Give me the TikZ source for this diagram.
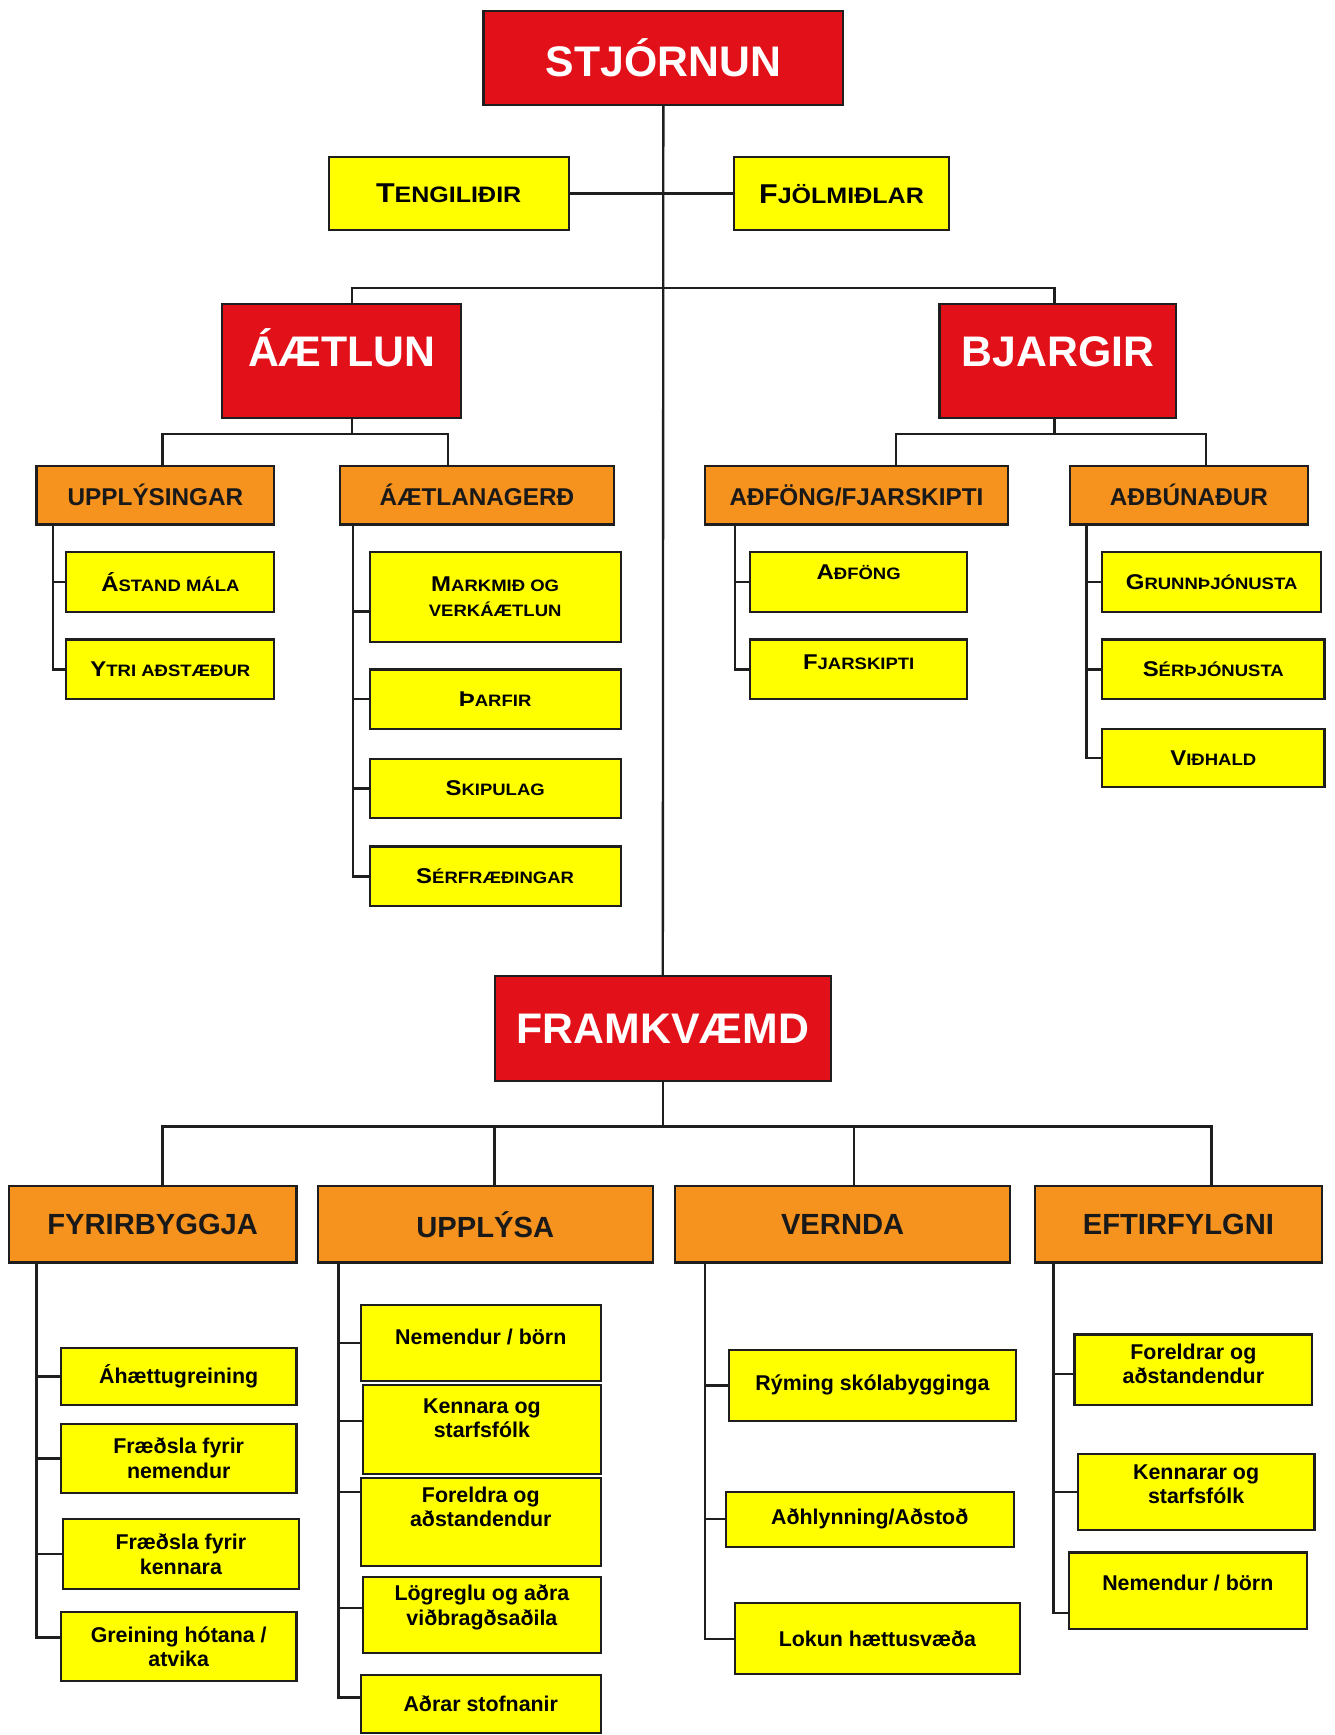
\documentclass[tikz,border=0pt]{standalone}
\usepackage{fontspec}
\setmainfont{Liberation Sans}
\newfontfamily\widefont{Liberation Sans}[FakeStretch=1.12]
\usetikzlibrary{calc}
\definecolor{redc}{RGB}{226,16,24}
\definecolor{orangec}{RGB}{246,146,30}
\definecolor{yelc}{RGB}{255,255,0}
\definecolor{linec}{RGB}{30,30,30}
\newcommand\mkbox[7]{\node[#1, minimum width={(#4-#2)*0.02cm}, minimum height={(#5-#3)*0.02cm}] (#6) at ({(#2+#4)/2},{(#3+#5)/2}) {#7};}
\newcommand\scbig[2]{{\fontsize{14}{16}\selectfont #1}{\fontsize{11.5}{16}\selectfont #2}}
\newcommand\scsm[2]{{\fontsize{11}{13}\selectfont #1}{\fontsize{8.5}{13}\selectfont #2}}
\begin{document}
\begin{tikzpicture}[x=0.02cm,y=-0.02cm,
 bx/.style={draw=linec, line width=1.1pt, inner sep=1pt, align=center},
 redbox/.style={bx, fill=redc, text=white, font=\bfseries\fontsize{22}{26}\selectfont},
 orbig/.style={bx, fill=orangec, text=black!90, font=\bfseries\fontsize{15}{18}\selectfont},
 orsm/.style={bx, fill=orangec, text=black!90, font=\bfseries\fontsize{12.5}{15}\selectfont},
 ylbig/.style={bx, fill=yelc, font=\widefont\bfseries\fontsize{11.5}{16}\selectfont},
 ylsc/.style={bx, fill=yelc, font=\widefont\bfseries\fontsize{8.5}{13}\selectfont},
 yl/.style={bx, fill=yelc, font=\bfseries\fontsize{11}{12.5}\selectfont},
 conn/.style={draw=linec, line width=1.2pt},
 txtup/.style={text depth=#1}]
\useasboundingbox (0,0) rectangle (1206,1568);
\fill[white] (0,0) rectangle (1206,1568);

% top level
\mkbox{redbox}{437}{10}{762}{95}{stj}{STJÓRNUN}
\mkbox{ylbig}{297}{142}{514}{208}{teng}{\scbig{T}{ENGILIÐIR}}
\mkbox{ylbig}{663}{142}{858}{208}{fjol}{\scbig{F}{JÖLMIÐLAR}}
\mkbox{redbox,txtup=14pt}{201}{275}{417}{378}{aet}{ÁÆTLUN}
\mkbox{redbox,txtup=10pt}{849}{275}{1063}{378}{bja}{BJARGIR}
\mkbox{redbox}{447}{882}{751}{977}{fram}{FRAMKVÆMD}

% upper orange
\mkbox{orsm}{33}{421}{248}{474}{ups}{UPPLÝSINGAR}
\mkbox{orsm}{307}{421}{555}{474}{agerd}{ÁÆTLANAGERÐ}
\mkbox{orsm}{637}{421}{911}{474}{adf}{AÐFÖNG/FJARSKIPTI}
\mkbox{orsm}{967}{421}{1182}{474}{adb}{AÐBÚNAÐUR}

% upper yellow
\mkbox{ylsc}{60}{499}{248}{553}{astand}{\scsm{Á}{STAND MÁLA}}
\mkbox{ylsc}{60}{578}{248}{632}{ytri}{\scsm{Y}{TRI AÐSTÆÐUR}}
\mkbox{ylsc}{334}{499}{561}{580}{mark}{\scsm{M}{ARKMIÐ OG}\\VERKÁÆTLUN}
\mkbox{ylsc}{334}{605}{561}{659}{tharf}{\scsm{Þ}{ARFIR}}
\mkbox{ylsc}{334}{686}{561}{739}{skip}{\scsm{S}{KIPULAG}}
\mkbox{ylsc}{334}{765}{561}{819}{serf}{\scsm{S}{ÉRFRÆÐINGAR}}
\mkbox{ylsc,txtup=10pt}{678}{499}{874}{553}{adfong}{\scsm{A}{ÐFÖNG}}
\mkbox{ylsc,txtup=8pt}{678}{578}{874}{632}{fjar}{\scsm{F}{JARSKIPTI}}
\mkbox{ylsc}{996}{499}{1194}{553}{grunn}{\scsm{G}{RUNNÞJÓNUSTA}}
\mkbox{ylsc}{996}{578}{1197}{632}{serth}{\scsm{S}{ÉRÞJÓNUSTA}}
\mkbox{ylsc}{996}{659}{1197}{711}{vidh}{\scsm{V}{IÐHALD}}

% lower orange
\mkbox{orbig}{8}{1072}{268}{1141}{fyr}{FYRIRBYGGJA}
\mkbox{orbig}{287}{1072}{590}{1141}{upa}{UPPLÝSA}
\mkbox{orbig}{610}{1072}{913}{1141}{ver}{VERNDA}
\mkbox{orbig}{935}{1072}{1195}{1141}{eft}{EFTIRFYLGNI}

% lower yellow
\mkbox{yl}{55}{1218}{268}{1270}{ahaet}{Áhættugreining}
\mkbox{yl}{55}{1287}{268}{1349}{fnem}{Fræðsla fyrir\\nemendur}
\mkbox{yl}{57}{1373}{270}{1436}{fken}{Fræðsla fyrir\\kennara}
\mkbox{yl}{55}{1457}{268}{1519}{grein}{Greining hótana /\\atvika}
\mkbox{yl,txtup=6pt}{326}{1179}{543}{1248}{unem}{Nemendur / börn}
\mkbox{yl,txtup=12pt}{328}{1252}{543}{1332}{uken}{Kennara og\\starfsfólk}
\mkbox{yl,txtup=16pt}{326}{1336}{543}{1415}{ufor}{Foreldra og\\aðstandendur}
\mkbox{yl,txtup=10pt}{328}{1425}{543}{1494}{ulog}{Lögreglu og aðra\\viðbragðsaðila}
\mkbox{yl}{326}{1514}{543}{1566}{uadr}{Aðrar stofnanir}
\mkbox{yl}{659}{1220}{918}{1284}{ryming}{Rýming skólabygginga}
\mkbox{yl}{656}{1348}{916}{1398}{adhl}{Aðhlynning/Aðstoð}
\mkbox{yl}{664}{1449}{922}{1513}{lokun}{Lokun hættusvæða}
\mkbox{yl,txtup=6pt}{971}{1206}{1186}{1270}{efor}{Foreldrar og\\aðstandendur}
\mkbox{yl,txtup=8pt}{974}{1314}{1188}{1383}{eken}{Kennarar og\\starfsfólk}
\mkbox{yl,txtup=8pt}{966}{1403}{1181}{1472}{enem}{Nemendur / börn}

% connectors top
\draw[conn] (stj.south) -- (fram.north);
\draw[conn] (teng.east) -- (fjol.west);
\coordinate (j1L) at (318,260);
\coordinate (j1R) at (953,260);
\draw[conn] (j1L |- aet.north) -- (j1L) -- (j1R) -- (j1R |- bja.north);
\coordinate (aL) at (147,392);
\coordinate (aR) at (405,392);
\draw[conn] (aet.south -| j1L) -- (j1L |- aL);
\draw[conn] (aL |- ups.north) -- (aL) -- (aR) -- (aR |- agerd.north);
\coordinate (bL) at (810,392);
\coordinate (bR) at (1090,392);
\draw[conn] (bja.south -| j1R) -- (j1R |- bL);
\draw[conn] (bL |- adf.north) -- (bL) -- (bR) -- (bR |- adb.north);

% spines upper
\coordinate (sp1) at (48,474);
\draw[conn] (sp1 |- ups.south) |- (ytri.west);
\draw[conn] (astand.west) -- (astand.west -| sp1);
\coordinate (sp2) at (319,474);
\draw[conn] (sp2 |- agerd.south) |- (serf.west);
\draw[conn] ($(mark.west)+(0,13)$) -- ($(mark.west -| sp2)+(0,13)$);
\draw[conn] (tharf.west) -- (tharf.west -| sp2);
\draw[conn] (skip.west) -- (skip.west -| sp2);
\coordinate (sp3) at (664,474);
\draw[conn] (sp3 |- adf.south) |- (fjar.west);
\draw[conn] (adfong.west) -- (adfong.west -| sp3);
\coordinate (sp4) at (982,474);
\draw[conn] (sp4 |- adb.south) |- (vidh.west);
\draw[conn] (grunn.west) -- (grunn.west -| sp4);
\draw[conn] (serth.west) -- (serth.west -| sp4);

% connectors lower
\coordinate (f1) at (147,1018);
\coordinate (f2) at (447,1018);
\coordinate (f3) at (772,1018);
\coordinate (f4) at (1095,1018);
\draw[conn] (fram.south) -- (fram.south |- f1);
\draw[conn] (f1 |- fyr.north) -- (f1) -- (f4) -- (f4 |- eft.north);
\draw[conn] (f2) -- (f2 |- upa.north);
\draw[conn] (f3) -- (f3 |- ver.north);

% spines lower
\coordinate (sp5) at (33,1141);
\draw[conn] (sp5 |- fyr.south) |- ($(grein.west)+(0,-8)$);
\draw[conn] (ahaet.west) -- (ahaet.west -| sp5);
\draw[conn] (fnem.west) -- (fnem.west -| sp5);
\draw[conn] (fken.west) -- (fken.west -| sp5);
\coordinate (sp6) at (306,1141);
\draw[conn] (sp6 |- upa.south) |- ($(uadr.west)+(0,-6)$);
\draw[conn] (unem.west) -- (unem.west -| sp6);
\draw[conn] ($(uken.west)+(0,-8)$) -- ($(uken.west -| sp6)+(0,-8)$);
\draw[conn] ($(ufor.west)+(0,-27)$) -- ($(ufor.west -| sp6)+(0,-27)$);
\draw[conn] ($(ulog.west)+(0,-6)$) -- ($(ulog.west -| sp6)+(0,-6)$);
\coordinate (sp7) at (637,1141);
\draw[conn] (sp7 |- ver.south) |- (lokun.west);
\draw[conn] (ryming.west) -- (ryming.west -| sp7);
\draw[conn] (adhl.west) -- (adhl.west -| sp7);
\coordinate (sp8) at (952,1141);
\draw[conn] (sp8 |- eft.south) |- ($(enem.west)+(0,20)$);
\draw[conn] ($(efor.west)+(0,4)$) -- ($(efor.west -| sp8)+(0,4)$);
\draw[conn] (eken.west) -- (eken.west -| sp8);
\end{tikzpicture}
\end{document}
